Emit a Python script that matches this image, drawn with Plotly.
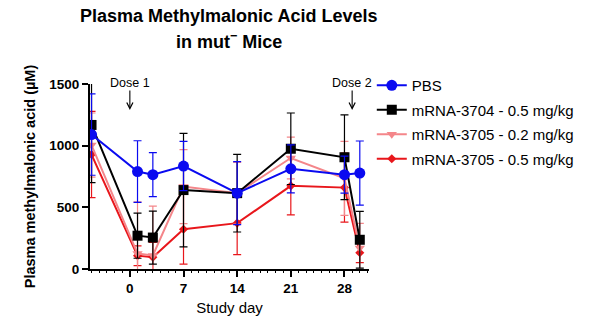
import plotly.graph_objects as go

days = [-5, 1, 3, 7, 14, 21, 28, 30]
pbs = [1090, 790, 765, 835, 615, 812, 765, 778]
pbs_err = [330, 250, 178, 200, 256, 195, 150, 260]
m3704 = [1168, 270, 255, 640, 615, 975, 906, 237]
m3704_err = [467, 183, 215, 460, 315, 290, 343, 230]
m3705_02 = [1005, 125, 110, 668, 615, 900, 735, 170]
m3705_02_err = [260, 420, 400, 300, 250, 170, 300, 200]
m3705_05 = [928, 108, 95, 322, 372, 674, 660, 132]
m3705_05_err = [350, 80, 120, 282, 256, 235, 280, 80]

x_ticks = [0, 7, 14, 21, 28]
y_ticks = [0, 500, 1000, 1500]

FONT = "Liberation Sans, Arial, sans-serif"

# (name, values, errors, colour, symbol, size, legend rank)
series = [
    ("mRNA-3705 - 0.5 mg/kg", m3705_05, m3705_05_err, "#E8161B", "diamond", 7, 4),
    ("mRNA-3705 - 0.2 mg/kg", m3705_02, m3705_02_err, "#F4868A", "triangle-down", 9, 3),
    ("mRNA-3704 - 0.5 mg/kg", m3704, m3704_err, "#000000", "square", 10, 2),
    ("PBS", pbs, pbs_err, "#0A0AF0", "circle", 11, 1),
]

fig = go.Figure()
for name, y, err, color, sym, size, rank in series:
    fig.add_trace(go.Scatter(
        x=days, y=y, name=name, mode="lines+markers",
        legendgroup=name, legendrank=rank,
        line=dict(color=color, width=2),
        marker=dict(symbol=sym, size=size, color=color),
        error_y=dict(type="data", array=err, visible=True, color=color,
                     thickness=1.2, width=4),
    ))

fig.update_layout(
    width=591, height=325,
    margin=dict(l=90, r=220, t=84, b=56),
    paper_bgcolor="white", plot_bgcolor="white",
    font=dict(family=FONT, color="black"),
    showlegend=True,
    legend=dict(
        x=1.01, xanchor="left", y=1.081, yanchor="top",
        traceorder="grouped", tracegroupgap=2,
        font=dict(size=15, family=FONT, color="black"),
        bgcolor="rgba(0,0,0,0)", itemwidth=30,
    ),
)

# Title as two centred lines
fig.add_annotation(x=0.498, y=1 + (84 - 16) / 185, xref="paper", yref="paper",
                   text="<b>Plasma Methylmalonic Acid Levels</b>", showarrow=False,
                   xanchor="center", yanchor="middle",
                   font=dict(size=18, family=FONT, color="black"))
fig.add_annotation(x=0.498, y=1 + (84 - 40) / 185, xref="paper", yref="paper",
                   text="<b>in mut<sup>−</sup> Mice</b>", showarrow=False,
                   xanchor="center", yanchor="middle",
                   font=dict(size=18, family=FONT, color="black"))

fig.update_xaxes(
    range=[-5.2, 31.2], tickvals=x_ticks,
    showline=True, linecolor="black", linewidth=2,
    ticks="outside", ticklen=6, tickwidth=2, tickcolor="black",
    minor=dict(dtick=1, ticks="outside", ticklen=2, tickwidth=1, tickcolor="black", tick0=0),
    showgrid=False, zeroline=False,
    tickfont=dict(size=13.5, family=FONT, weight="bold"),
    title=dict(text="Study day", font=dict(size=15, family=FONT), standoff=7),
)
fig.update_yaxes(
    range=[0, 1500], tickvals=y_ticks,
    showline=True, linecolor="black", linewidth=2,
    ticks="outside", ticklen=6, tickwidth=2, tickcolor="black",
    showgrid=False, zeroline=False,
    tickfont=dict(size=13.5, family=FONT, weight="bold"),
    title=dict(text="<b>Plasma methylmalonic acid (µM)</b>", font=dict(size=14.5, family=FONT), standoff=10),
)

# Dose labels with downward arrows
for xd, label in [(0, "Dose 1"), (29, "Dose 2")]:
    fig.add_annotation(x=xd, y=1 + (84 - 110) / 185, xref="x", yref="paper", text=label,
                       showarrow=True, ax=0, ay=-27, arrowhead=5, arrowsize=1.1,
                       arrowwidth=1.1, arrowcolor="black", standoff=0, borderpad=0,
                       font=dict(size=12.5, family=FONT, color="black"))

fig.write_html("out.html")
